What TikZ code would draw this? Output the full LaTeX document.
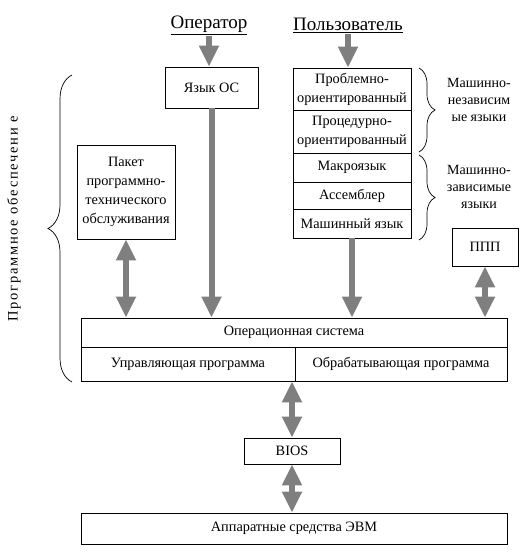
\documentclass[tikz,border=0pt]{standalone}
\usepackage{fontspec}
\setmainfont{Liberation Serif}
\usetikzlibrary{arrows.meta,positioning,calc,decorations.pathreplacing}
\definecolor{arrgray}{HTML}{7F7F7F}
\tikzset{
  % blocks
  blk/.style={draw=black,line width=0.9pt,inner sep=1pt,align=center,
              font=\fontsize{14.3}{19}\selectfont},
  ttl/.style={inner sep=1pt,font=\fontsize{19}{21}\selectfont},
  side/.style={inner sep=1pt,align=center,font=\fontsize{14}{17}\selectfont},
  % arrows
  fat/.style={draw=arrgray,line width=6pt,-{Triangle[length=21pt,width=19pt]}},
  fatb/.style={draw=arrgray,line width=6pt,{Triangle[length=21pt,width=19pt]}-{Triangle[length=21pt,width=19pt]}},
  brc/.style={draw=black,line width=0.7pt,decorate},
}
\begin{document}
\begin{tikzpicture}[x=1pt,y=-1pt]
\useasboundingbox (0,0) rectangle (531,556);
  \node[ttl] (oper) at (209,25) {\underline{Оператор}};
  \node[ttl] (user) at (348,25) {\underline{Пользователь}};
  \node[blk,minimum width=93pt,minimum height=41pt] (oslang) at (211.5,87.5) {Язык ОС};
  \node[blk,minimum width=118pt,minimum height=42pt] (prob) at (352,89) {Проблемно-\\ориентированный};
  \node[blk,minimum width=118pt,minimum height=43pt] (proc) at (352,131.5) {Процедурно-\\ориентированный};
  \node[blk,minimum width=118pt,minimum height=29pt] (macro) at (352,167.5) {Макроязык};
  \node[blk,minimum width=118pt,minimum height=27pt] (asm) at (352,195.5) {Ассемблер};
  \node[blk,minimum width=118pt,minimum height=29pt] (mach) at (352,223.5) {Машинный язык};
  \node[blk,minimum width=98pt,minimum height=94pt] (pak) at (126,192) {Пакет\\программно-\\технического\\обслуживания};
  \node[blk,minimum width=66pt,minimum height=38pt] (ppp) at (485,247) {ППП};
  \node[blk,minimum width=426pt,minimum height=29pt] (os) at (294,332.5) {Операционная система};
  \node[blk,minimum width=214pt,minimum height=34pt] (ctl) at (188,364) {Управляющая программа};
  \node[blk,minimum width=212pt,minimum height=34pt] (work) at (401,364) {Обрабатывающая программа};
  \node[blk,minimum width=96pt,minimum height=26pt] (bios) at (292,451) {BIOS};
  \node[blk,minimum width=426pt,minimum height=31pt] (hw) at (294,528.5) {Аппаратные средства ЭВМ};
  % braces and side labels
  \coordinate (lb1) at (72,382);
  \coordinate (lb2) at (72,75);
  \draw[brc,decoration={brace,amplitude=24pt}] (lb1) -- (lb2);
  \node[side,rotate=90] (soft) at (14,219)
    {\fontsize{14.5}{17}\selectfont\addfontfeature{LetterSpace=12}Программное обеспечени е};
  \coordinate (rb1) at (419,68);
  \coordinate (rb2) at (419,152);
  \coordinate (rb3) at (419,155);
  \coordinate (rb4) at (419,240);
  \draw[brc,decoration={brace,amplitude=16pt}] (rb1) -- (rb2);
  \draw[brc,decoration={brace,amplitude=16pt}] (rb3) -- (rb4);
  \node[side] (indep) at (479,100) {Машинно-\\независим\\ые языки};
  \node[side] (dep) at (479,187) {Машинно-\\зависимые\\языки};
  % arrows
  \draw[fat] (oper.south) -- (oper.south |- oslang.north);
  \draw[fat] (user.south) -- (user.south |- prob.north);
  \draw[fat] (oslang.south) -- (oslang.south |- os.north);
  \draw[fat] (mach.south) -- (mach.south |- os.north);
  \draw[fatb] (pak.south) -- (pak.south |- os.north);
  \draw[fatb] (ppp.south) -- (ppp.south |- os.north);
  \draw[fatb] (bios.north |- ctl.south) -- (bios.north);
  \draw[fatb] (bios.south) -- (bios.south |- hw.north);
\end{tikzpicture}
\end{document}
